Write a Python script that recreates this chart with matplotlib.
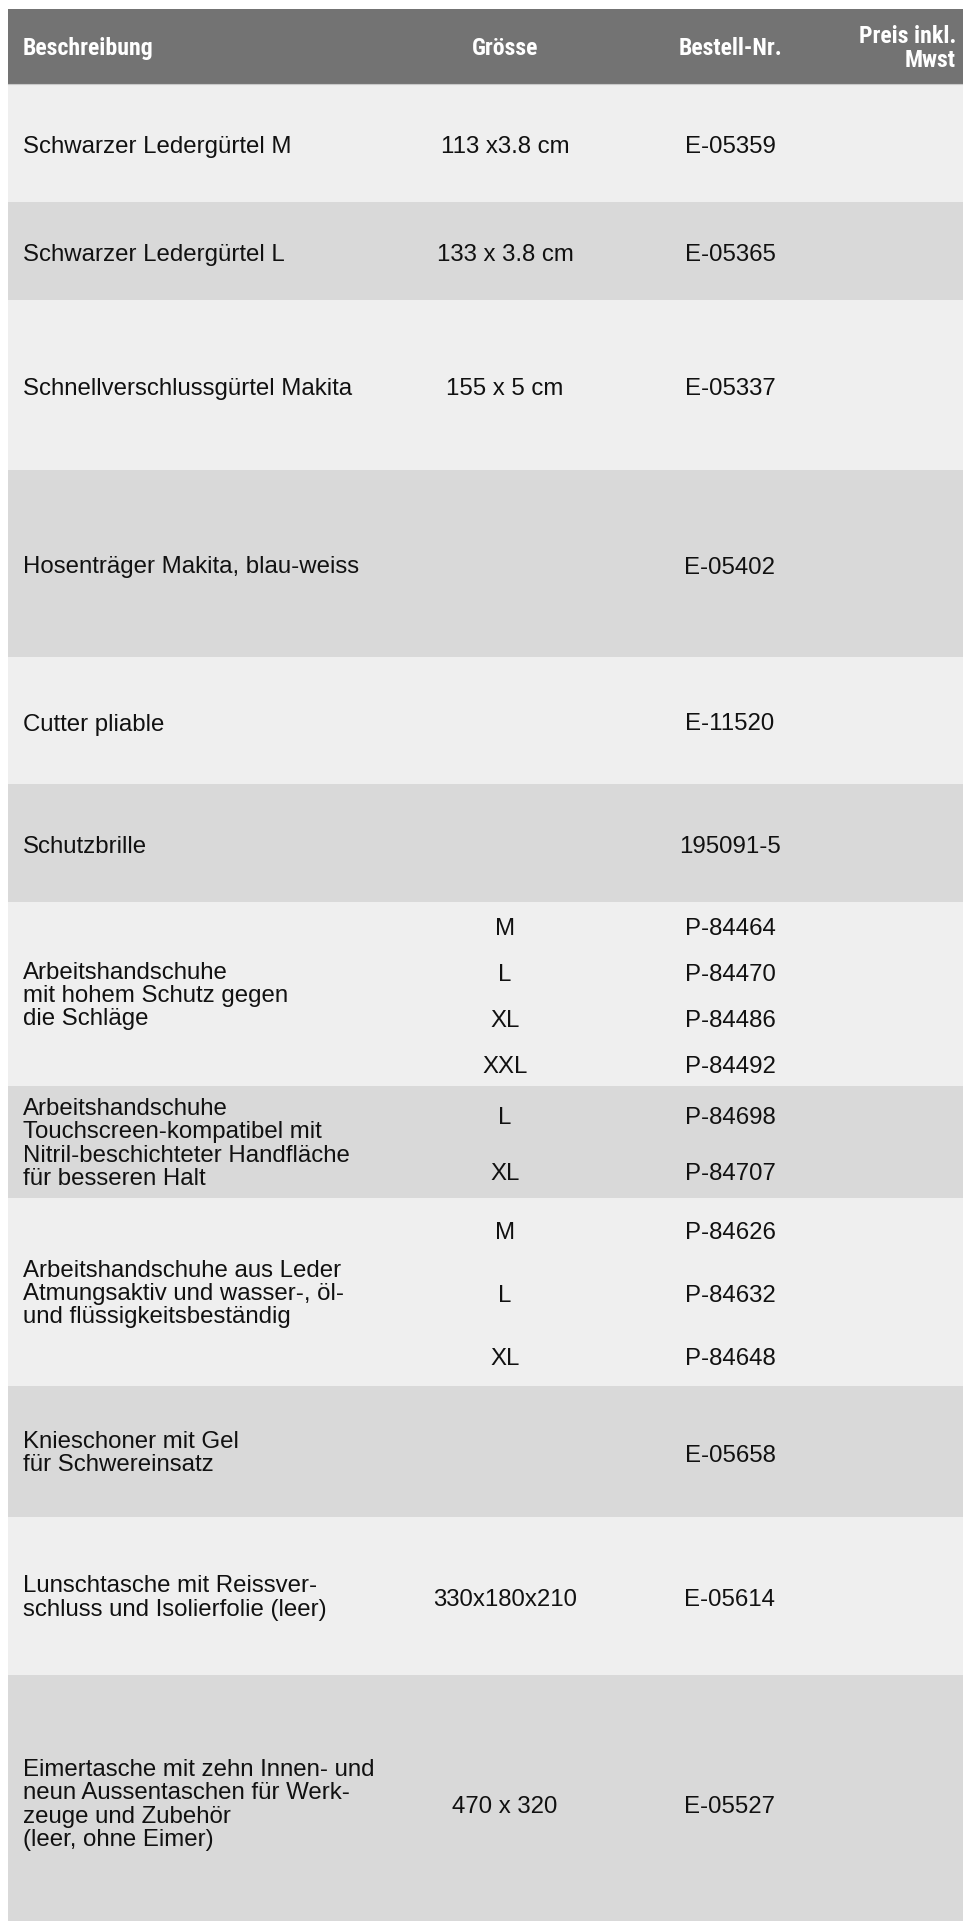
import matplotlib.pyplot as plt
from matplotlib import font_manager
import numpy as np

# table content
headers = ["Beschreibung", "Grösse", "Bestell-Nr.", "Preis inkl.\nMwst"]
beschreibung = [
    "Schwarzer Ledergürtel M",
    "Schwarzer Ledergürtel L",
    "Schnellverschlussgürtel Makita",
    "Hosenträger Makita, blau-weiss",
    "Cutter pliable",
    "Schutzbrille",
    "Arbeitshandschuhe\nmit hohem Schutz gegen\ndie Schläge",
    "Arbeitshandschuhe\nTouchscreen-kompatibel mit\nNitril-beschichteter Handfläche\nfür besseren Halt",
    "Arbeitshandschuhe aus Leder\nAtmungsaktiv und wasser-, öl-\nund flüssigkeitsbeständig",
    "Knieschoner mit Gel\nfür Schwereinsatz",
    "Lunschtasche mit Reissver-\nschluss und Isolierfolie (leer)",
    "Eimertasche mit zehn Innen- und\nneun Aussentaschen für Werk-\nzeuge und Zubehör\n(leer, ohne Eimer)",
]
groesse = [
    ["113 x3.8 cm"],
    ["133 x 3.8 cm"],
    ["155 x 5 cm"],
    [""],
    [""],
    [""],
    ["M", "L", "XL", "XXL"],
    ["L", "XL"],
    ["M", "L", "XL"],
    [""],
    ["330x180x210"],
    ["470 x 320"],
]
bestell_nr = [
    ["E-05359"],
    ["E-05365"],
    ["E-05337"],
    ["E-05402"],
    ["E-11520"],
    ["195091-5"],
    ["P-84464", "P-84470", "P-84486", "P-84492"],
    ["P-84698", "P-84707"],
    ["P-84626", "P-84632", "P-84648"],
    ["E-05658"],
    ["E-05614"],
    ["E-05527"],
]

# layout (pixels)
W, H = 963, 1921
row_h = np.array([118, 98, 170, 187, 127, 118, 184, 112, 188, 131, 158, 256])
top, head_h, left = 9, 75, 8
x_desc, x_size, x_nr, x_price = 23, 505, 730, 956

fig = plt.figure(figsize=(W / 100, H / 100), dpi=100)
ax = fig.add_axes([0, 0, 1, 1])
ax.set_xlim(0, W)
ax.set_ylim(H, 0)
ax.axis("off")

body_fs = 24 * 0.72


# a condensed bold face for the header if one is installed
def _w(f):
    return f.weight if isinstance(f.weight, int) else font_manager.weight_dict.get(f.weight, 400)


cands = [f for f in font_manager.fontManager.ttflist
         if _w(f) >= 600 and f.style == "normal"
         and ("Narrow" in f.name or "Condensed" in f.name
              or f.stretch in ("condensed", "semi-condensed"))]
cands.sort(key=lambda f: (not any(k in f.name for k in ("Liberation", "Arial", "Roboto")), f.name))
if cands:
    head_prop = font_manager.FontProperties(fname=cands[0].fname, size=22 * 0.72)
else:
    head_prop = font_manager.FontProperties(family="Liberation Sans", weight="bold", size=22 * 0.72)

# header
ax.barh(top + head_h / 2, W - left, height=head_h, left=left, color="#737373")
ax.plot([left, W], [top + head_h, top + head_h], color="#c9c9c9", lw=0.8)

t0 = ax.text(x_desc, 55, headers[0], color="white", fontproperties=head_prop,
             va="baseline", ha="left")
r = fig.canvas.get_renderer()
wpx = t0.get_window_extent(renderer=r).width
head_prop.set_size(head_prop.get_size() * 131 / wpx)
t0.set_fontproperties(head_prop)

ax.text(x_size, 55, headers[1], color="white", fontproperties=head_prop,
        va="baseline", ha="center")
ax.text(x_nr, 55, headers[2], color="white", fontproperties=head_prop,
        va="baseline", ha="center")
for k, line in enumerate(headers[3].split("\n")):
    ax.text(x_price, 43 + 24 * k, line, color="white", fontproperties=head_prop,
            va="baseline", ha="right")

# body rows
starts = top + head_h + np.concatenate([[0], np.cumsum(row_h)[:-1]])
centers = starts + row_h / 2
colors = ["#efefef" if i % 2 == 0 else "#d9d9d9" for i in range(len(row_h))]
ax.barh(centers, W - left, height=row_h, left=left, color=colors)

for i in range(len(row_h)):
    off = 4 if "\n" not in beschreibung[i] else 2
    ax.text(x_desc, centers[i] + off, beschreibung[i], fontsize=body_fs,
            family="Liberation Sans", color="#111111", va="center",
            ha="left", linespacing=1.06)
    n = len(bestell_nr[i])
    sub = row_h[i] / n
    for k in range(n):
        yk = starts[i] + sub * (k + 0.5) + 4
        ax.text(x_size, yk, groesse[i][k], fontsize=body_fs,
                family="Liberation Sans", color="#111111",
                va="center", ha="center")
        ax.text(x_nr, yk, bestell_nr[i][k], fontsize=body_fs,
                family="Liberation Sans", color="#111111",
                va="center", ha="center")

fig.savefig("out.png", dpi=100, facecolor="white")
